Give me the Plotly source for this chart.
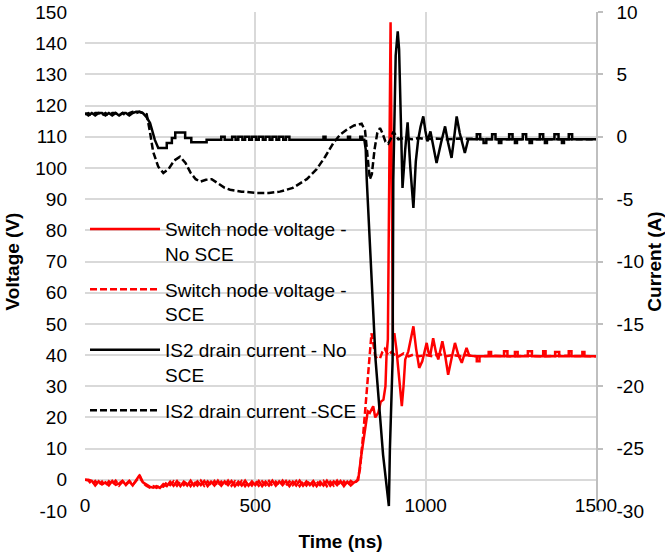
import plotly.graph_objects as go

# ---------------- data ----------------
# Switch node voltage - No SCE (V)
t_v_nosce = [0, 10, 20, 30, 40, 50, 60, 70, 80, 90, 100, 110, 120, 130, 140, 150, 160, 170, 180, 190,
             200, 210, 220, 230, 240, 250, 260, 270, 280, 290, 300, 310, 320, 330, 340, 350, 360, 370, 380, 390,
             400, 410, 420, 430, 440, 450, 460, 470, 480, 490, 500, 510, 520, 530, 540, 550, 560, 570, 580, 590,
             600, 610, 620, 630, 640, 650, 660, 670, 680, 690, 700, 710, 720, 730, 740, 750, 760, 770, 780, 790,
             797, 802, 812, 822, 830, 836, 846, 852, 861, 868, 876, 882, 885, 889, 897, 904, 908, 914, 920, 925,
             930, 935, 940, 949, 957, 964, 972, 981, 990, 1003, 1008, 1013, 1022, 1030, 1037, 1049, 1057, 1066, 1076, 1086,
             1096, 1106, 1113, 1120, 1128, 1140, 1150, 1150, 1158, 1158, 1185, 1185, 1192, 1192, 1230, 1230, 1240, 1240, 1262, 1262,
             1270, 1270, 1300, 1300, 1312, 1312, 1345, 1345, 1352, 1352, 1380, 1380, 1392, 1392, 1420, 1420, 1428, 1428, 1460, 1460,
             1466, 1466, 1500]
v_nosce = [0, 0, -0.3, -1.8, -0.5, -1.5, -0.8, -1.8, -0.4, -1.6, -1.2, -0.3, -1.7, -0.5, -1.8, -0.2, 1.5, -0.8, -1.5, -2.2,
           -2.5, -2.0, -2.6, -1.4, -2.0, -0.6, -1.9, -0.4, -2.0, -0.6, -1.8, -0.3, -1.9, -0.5, -1.7, -0.4, -2.0, -0.6, -1.8, -0.3,
           -1.9, -0.5, -1.7, -0.4, -2.0, -0.6, -1.8, -0.3, -1.9, -0.5, -1.7, -0.4, -2.0, -0.6, -1.8, -0.3, -1.9, -0.5, -1.7, -0.4,
           -2.0, -0.6, -1.8, -0.3, -1.9, -0.5, -1.7, -0.4, -2.0, -0.6, -1.8, -0.3, -1.9, -0.5, -1.7, -0.4, -2.0, -0.6, -1.8, -0.8,
           -0.5, 0, 8.6, 17, 22, 21.5, 23.6, 20, 21.5, 25, 25.7, 30, 39.6, 45, 146.7, 45, 47, 42, 35, 30,
           23.6, 30, 38.6, 41.2, 46, 49.2, 42, 35.9, 38, 43.9, 41, 39.6, 45.4, 41, 38.6, 44.4, 40, 33.7, 39, 43.9,
           40, 37.5, 40, 42.3, 39.8, 39.6, 39.6, 38.0, 38.0, 39.6, 39.6, 41.0, 41.0, 39.6, 39.6, 41.2, 41.2, 39.6, 39.6, 41.0,
           41.0, 39.6, 39.6, 41.2, 41.2, 39.6, 39.6, 41.2, 41.2, 39.6, 39.6, 41.0, 41.0, 39.6, 39.6, 41.2, 41.2, 39.6, 39.6, 41.0,
           41.0, 39.6, 39.6]

# Switch node voltage - SCE (V)
t_v_sce = [0, 10, 20, 30, 40, 50, 60, 70, 80, 90, 100, 110, 120, 130, 140, 150, 160, 170, 180, 190,
           200, 210, 220, 230, 240, 250, 260, 270, 280, 290, 300, 310, 320, 330, 340, 350, 360, 370, 380, 390,
           400, 410, 420, 430, 440, 450, 460, 470, 480, 490, 500, 510, 520, 530, 540, 550, 560, 570, 580, 590,
           600, 610, 620, 630, 640, 650, 660, 670, 680, 690, 700, 710, 720, 730, 740, 750, 760, 770, 780, 790,
           800, 807, 817, 827, 836, 841, 846, 852, 858, 866, 873, 880, 890, 900, 910, 920, 935, 950, 965, 980,
           1000, 1020, 1040, 1060, 1080, 1100, 1120, 1150, 1200, 1250, 1300, 1350, 1400, 1450, 1500]
v_sce = [0, -0.2, -1.5, -0.4, -1.7, -0.6, -1.9, -0.5, -1.5, -0.3, -1.8, -0.6, -1.4, -0.3, -1.6, -0.4, 1.2, -1.0, -1.9, -2.5,
         -2.0, -2.6, -1.9, -2.2, -0.8, -1.7, -0.5, -1.9, -0.5, -1.7, -0.4, -2.0, -0.6, -1.8, -0.3, -1.9, -0.5, -1.7, -0.4, -2.0,
         -0.6, -1.8, -0.3, -1.9, -0.5, -1.7, -0.4, -2.0, -0.6, -1.8, -0.3, -1.9, -0.5, -1.7, -0.4, -2.0, -0.6, -1.8, -0.3, -1.9,
         -0.5, -1.7, -0.4, -2.0, -0.6, -1.8, -0.3, -1.9, -0.5, -1.7, -0.4, -2.0, -0.6, -1.8, -0.3, -1.9, -0.5, -1.7, -0.4, -1.2,
         0, 3.4, 15, 28, 38, 47, 44, 39.6, 39, 39, 41, 42, 40, 41, 40, 39.5, 40.5, 39.6, 40.2, 39.6,
         40, 39.6, 40.3, 39.6, 40, 39.6, 40, 39.6, 39.8, 39.6, 39.8, 39.6, 39.8, 39.6, 39.6]

# IS2 drain current - No SCE (A)
t_i_nosce = [0, 10, 20, 30, 40, 50, 60, 70, 80, 90, 100, 110, 120, 130, 140, 150, 160, 170, 180, 191,
             205, 215, 240, 240, 255, 255, 265, 265, 294, 294, 312, 312, 357, 357, 400, 400, 410, 410, 432, 432,
             442, 442, 450, 450, 462, 462, 470, 470, 482, 482, 490, 490, 502, 502, 510, 510, 522, 522, 530, 530,
             542, 542, 550, 550, 562, 562, 570, 570, 582, 582, 590, 590, 600, 600, 700, 700, 706, 706, 772, 772,
             778, 778, 808, 808, 814, 814, 820, 824, 827, 853, 875, 892, 895, 903, 905, 912, 918, 922, 927, 932,
             940, 947, 955, 964, 971, 978, 985, 993, 999, 1005, 1014, 1023, 1032, 1045, 1057, 1066, 1076, 1083, 1091, 1100,
             1108, 1115, 1125, 1135, 1150, 1150, 1160, 1160, 1170, 1170, 1178, 1178, 1195, 1195, 1205, 1205, 1215, 1215, 1222, 1222,
             1245, 1245, 1255, 1255, 1262, 1262, 1268, 1268, 1285, 1285, 1295, 1295, 1305, 1305, 1312, 1312, 1335, 1335, 1345, 1345,
             1350, 1350, 1356, 1356, 1378, 1378, 1390, 1390, 1400, 1400, 1406, 1406, 1420, 1420, 1430, 1430, 1500]
i_nosce = [1.9, 1.7, 1.9, 1.7, 1.9, 1.9, 1.7, 1.9, 1.7, 1.9, 1.7, 1.9, 1.9, 1.7, 1.9, 2.0, 2.0, 1.9, 1.6, 1.1,
           -0.25, -0.9, -0.9, -0.5, -0.5, -0.1, -0.1, 0.35, 0.35, -0.1, -0.1, -0.45, -0.45, -0.25, -0.25, 0.0, 0.0, -0.25, -0.25, 0.0,
           0.0, -0.25, -0.25, 0.0, 0.0, -0.25, -0.25, 0.0, 0.0, -0.25, -0.25, 0.0, 0.0, -0.25, -0.25, 0.0, 0.0, -0.25, -0.25, 0.0,
           0.0, -0.25, -0.25, 0.0, 0.0, -0.25, -0.25, 0.0, 0.0, -0.25, -0.25, 0.0, 0.0, -0.25, -0.25, 0.0, 0.0, -0.25, -0.25, 0.0,
           0.0, -0.25, -0.25, 0.0, 0.0, -0.25, -0.25, -1.0, -3.4, -17.9, -25.5, -29.6, -25.0, -17.9, -3.4, 6.5, 8.45, 7.0, 1.5, -4.1,
           -1.0, 1.15, -2.5, -5.7, -2.0, -0.24, 0.8, 1.63, 0.5, -0.37, 0.43, -0.8, -2.1, -0.5, 0.83, -0.5, -1.7, -0.2, 1.63, 0.3,
           -0.5, -1.3, -0.2, -0.2, -0.2, 0.2, 0.2, -0.2, -0.2, -0.5, -0.5, -0.2, -0.2, 0.2, 0.2, -0.2, -0.2, -0.5, -0.5, -0.2,
           -0.2, 0.2, 0.2, -0.2, -0.2, -0.5, -0.5, -0.2, -0.2, 0.2, 0.2, -0.2, -0.2, -0.5, -0.5, -0.2, -0.2, 0.2, 0.2, -0.2,
           -0.2, -0.5, -0.5, -0.2, -0.2, 0.2, 0.2, -0.2, -0.2, -0.5, -0.5, -0.2, -0.2, 0.2, 0.2, -0.2, -0.2]

# IS2 drain current - SCE (A)
t_i_sce = [0, 10, 20, 30, 40, 50, 60, 70, 80, 90, 100, 110, 120, 130, 140, 150, 160, 170, 181, 190,
           200, 215, 230, 245, 262, 279, 295, 310, 325, 338, 355, 372, 390, 410, 426, 460, 504, 540, 572, 610,
           651, 680, 705, 729, 750, 770, 790, 812, 822, 827, 832, 836, 842, 850, 858, 866, 873, 882, 890, 897,
           905, 912, 920, 940, 960, 980, 1000, 1030, 1060, 1100, 1150, 1200, 1300, 1400, 1500]
i_sce = [1.8, 1.9, 1.7, 1.9, 1.9, 1.7, 1.9, 1.7, 1.9, 1.9, 1.7, 1.9, 1.7, 1.9, 2.0, 1.9, 2.0, 1.9, 1.8, 0.5,
         -1.2, -2.4, -2.9, -2.6, -1.9, -1.6, -2.1, -2.9, -3.4, -3.6, -3.45, -3.4, -3.7, -4.1, -4.25, -4.4, -4.5, -4.5, -4.4, -4.1,
         -3.4, -2.6, -1.6, -0.5, 0.2, 0.6, 0.9, 1.05, 0.5, -1.0, -2.8, -3.4, -3.0, -1.0, 0.3, 0.7, 0.3, -0.4, -0.55, -0.2,
         0.4, 0.1, -0.2, -0.1, -0.2, -0.1, -0.2, -0.15, -0.2, -0.15, -0.2, -0.2, -0.2, -0.2, -0.2]

names = ["Switch node voltage -<br>No SCE", "Switch node voltage -<br>SCE",
         "IS2 drain current - No<br>SCE", "IS2 drain current -SCE"]

# tick labels
x_ticks = [0, 500, 1000, 1500]
v_ticks = [-10, 0, 10, 20, 30, 40, 50, 60, 70, 80, 90, 100, 110, 120, 130, 140, 150]
v_ticktext = ["-10", "0", "10", "20", "30", "40", "50", "60", "70", "80", "90", "100", "110", "120", "130", "140", "150"]
i_ticks = [-30, -25, -20, -15, -10, -5, 0, 5, 10]
i_ticktext = ["-30", "-25", "-20", "-15", "-10", "-5", "0", "5", "10"]
v_range = [-10, 150]
i_range = [-30, 10]

FONT = "Liberation Sans, Arial, sans-serif"
FS = 19
RED = "#ff0000"
BLK = "#000000"

fig = go.Figure()
fig.add_trace(go.Scatter(x=t_v_nosce, y=v_nosce, mode="lines", name=names[0], legendgroup="a",
                         line=dict(color=RED, width=2.5)))
fig.add_trace(go.Scatter(x=t_v_sce, y=v_sce, mode="lines", name=names[1], legendgroup="b",
                         line=dict(color=RED, width=2.5, dash="7px,3px")))
fig.add_trace(go.Scatter(x=t_i_nosce, y=i_nosce, mode="lines", name=names[2], legendgroup="c",
                         line=dict(color=BLK, width=2.5), yaxis="y2"))
fig.add_trace(go.Scatter(x=t_i_sce, y=i_sce, mode="lines", name=names[3], legendgroup="d",
                         line=dict(color=BLK, width=2.5, dash="7px,3px"), yaxis="y2"))

fig.update_layout(
    width=665, height=557,
    margin=dict(l=85, r=69, t=12, b=46, autoexpand=False),
    paper_bgcolor="white", plot_bgcolor="white",
    font=dict(family=FONT, size=FS, color="#000"),
    showlegend=True,
    legend=dict(x=0.0, y=0.603, xanchor="left", yanchor="top", bgcolor="rgba(0,0,0,0)",
                font=dict(family=FONT, size=FS, color="#000"), itemwidth=70,
                traceorder="grouped", tracegroupgap=8, valign="top"),
    xaxis=dict(range=[0, 1500], tickvals=x_ticks, showgrid=True, gridcolor="#d9d9d9", gridwidth=1.5,
               zeroline=False, showline=False, anchor="free", position=(0 - v_range[0]) / (v_range[1] - v_range[0]),
               ticks="", ticklabelstandoff=12, tickfont=dict(family=FONT, size=FS), automargin=False,
               title=dict(text="<b>Time (ns)</b>", standoff=19, font=dict(family=FONT, size=FS))),
    yaxis=dict(range=v_range, tickvals=v_ticks, ticktext=v_ticktext, showgrid=True, gridcolor="#d9d9d9", gridwidth=1.5,
               zeroline=False, showline=False, ticks="", ticklabelstandoff=17, automargin=False,
               tickfont=dict(family=FONT, size=FS),
               title=dict(text="<b>Voltage (V)</b>", standoff=10, font=dict(family=FONT, size=FS))),
    yaxis2=dict(range=i_range, tickvals=i_ticks, ticktext=i_ticktext, overlaying="y", side="right", showgrid=False,
                zeroline=False, showline=True, linecolor="#bfbfbf", linewidth=1.5, automargin=False,
                ticks="outside", ticklen=5, tickcolor="#bfbfbf", tickwidth=1.5, ticklabelstandoff=10,
                tickfont=dict(family=FONT, size=FS),
                title=dict(text="<b>Current (A)</b>", standoff=14, font=dict(family=FONT, size=FS))),
)

fig.write_html("out.html")
